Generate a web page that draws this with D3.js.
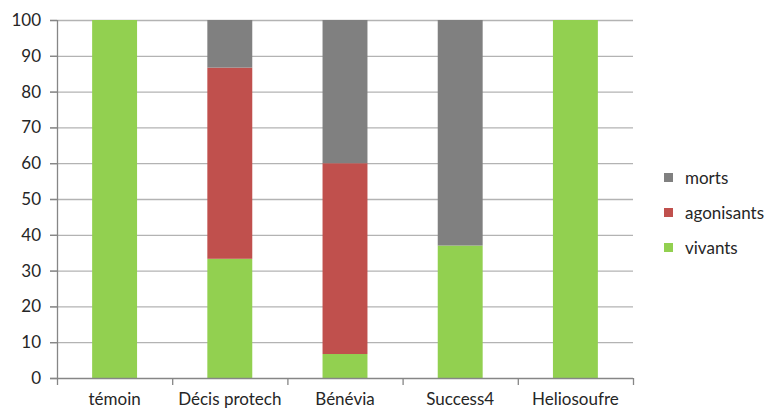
<!DOCTYPE html>
<html><head><meta charset="utf-8">
<script src="https://cdn.jsdelivr.net/npm/d3@7"></script>
<style>body{margin:0;background:#fff;} text{font-family:Lato,"Open Sans",sans-serif;}</style>
</head><body>
<svg id="c" width="772" height="411"></svg>
<script>
const categories = ["témoin","Décis protech","Bénévia","Success4","Heliosoufre"];
const vivants    = [100, 33.3, 6.7, 37, 100];
const agonisants = [0, 53.4, 53.3, 0, 0];
const morts      = [0, 13.3, 40, 63, 0];
const seriesNames = ["vivants","agonisants","morts"];
const colors = {vivants:"#92D050", agonisants:"#C0504D", morts:"#808080"};
const yTicks = [0,10,20,30,40,50,60,70,80,90,100];

const rows = categories.map((c,i)=>({cat:c, vivants:vivants[i], agonisants:agonisants[i], morts:morts[i]}));
const stack = d3.stack().keys(seriesNames)(rows);

const svg = d3.select("#c");
const x = d3.scaleBand().domain(categories).range([57,633]).paddingInner(0.61).paddingOuter(0.305);
const y = d3.scaleLinear().domain([0,100]).range([378,20]);

// gridlines
svg.append("g").selectAll("line").data(yTicks.filter(t=>t>0)).join("line")
  .attr("x1",50).attr("x2",633).attr("y1",d=>y(d)+0.5).attr("y2",d=>y(d)+0.5)
  .attr("stroke","#b3b3b3").attr("stroke-width",1.3);

// bars
svg.append("g").selectAll("g").data(stack).join("g").attr("fill",d=>colors[d.key])
  .selectAll("rect").data(d=>d).join("rect")
  .attr("x",d=>x(d.data.cat)).attr("width",x.bandwidth())
  .attr("y",d=>y(d[1])).attr("height",d=>y(d[0])-y(d[1]));

// y axis
const ya = svg.append("g").attr("transform","translate(57,0)")
  .call(d3.axisLeft(y).tickValues(yTicks).tickSize(7).tickPadding(9));
ya.select(".domain").attr("stroke","#868686").attr("stroke-width",1.3).attr("d","M0.5,20V378.5");
ya.selectAll(".tick line").attr("stroke","#868686").attr("stroke-width",1.3);
ya.selectAll(".tick text").attr("font-size",17).attr("fill","#262626");

// x axis
const xa = svg.append("g").attr("transform","translate(0,378)");
xa.append("line").attr("x1",50).attr("x2",633).attr("y1",0.5).attr("y2",0.5).attr("stroke","#868686").attr("stroke-width",1.3);
const bounds = categories.map(c=>x(c)-x.step()*x.paddingInner()/2).concat([633]);
xa.selectAll("line.t").data(bounds).join("line").attr("class","t")
  .attr("x1",d=>d+0.5).attr("x2",d=>d+0.5).attr("y1",0).attr("y2",7).attr("stroke","#868686").attr("stroke-width",1.3);
xa.selectAll("text").data(categories).join("text")
  .attr("x",d=>x(d)+x.bandwidth()/2).attr("y",27).attr("text-anchor","middle")
  .attr("font-size",17).attr("fill","#262626").text(d=>d);

// legend
const leg = ["morts","agonisants","vivants"];
const lg = svg.append("g").selectAll("g").data(leg).join("g")
  .attr("transform",(d,i)=>`translate(664,${173+i*35})`);
lg.append("rect").attr("width",9).attr("height",9).attr("fill",d=>colors[d]);
lg.append("text").attr("x",21).attr("y",11).attr("font-size",17).attr("fill","#262626").text(d=>d);
</script>
</body></html>
